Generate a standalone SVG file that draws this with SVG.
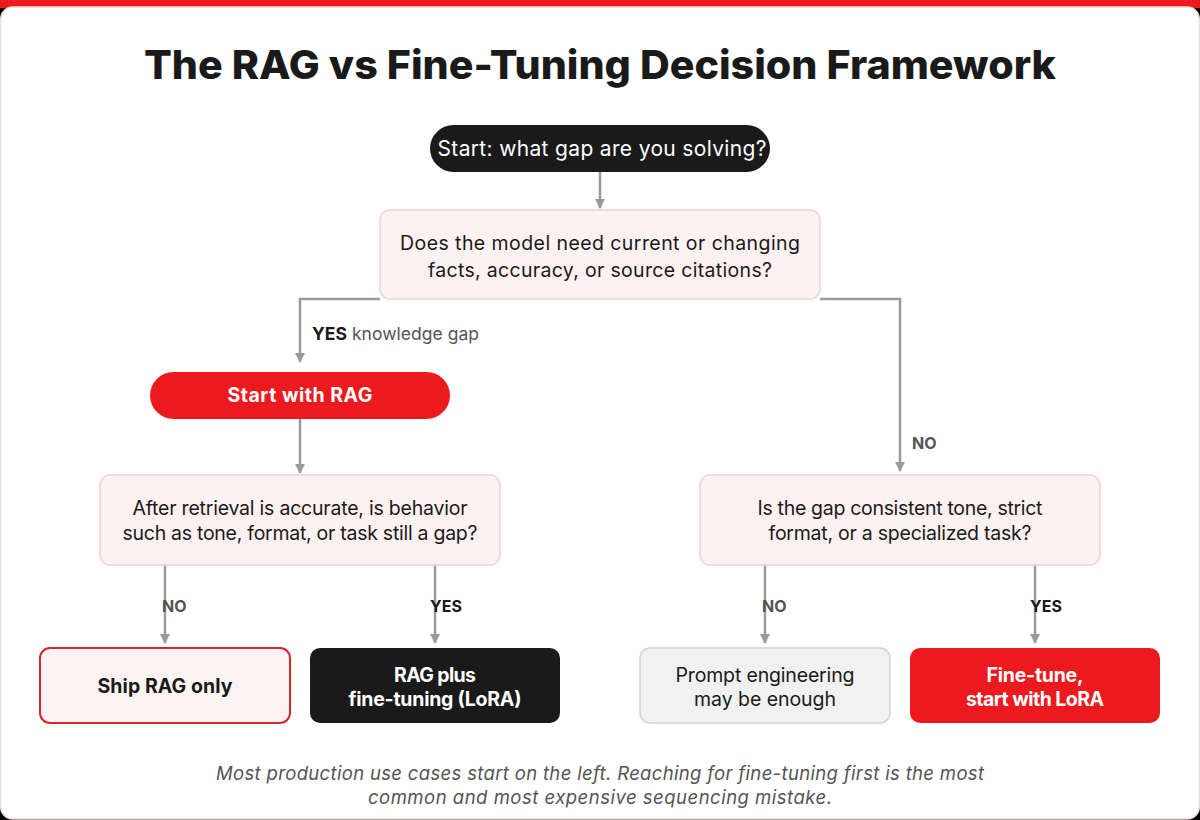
<svg xmlns="http://www.w3.org/2000/svg" width="1200" height="820" viewBox="0 0 1200 820">
  <defs>
    <marker id="arr" viewBox="0 0 10 10" refX="9" refY="5" markerWidth="10" markerHeight="10" markerUnits="userSpaceOnUse" orient="auto">
      <path d="M0,0 L10,5 L0,10 Z" fill="#9a9a9a"/>
    </marker>
    <style>
      text { font-family: Inter, "Open Sans", sans-serif; }
      .title { font-size: 40px; font-weight: 800; fill: #1a1a1a; }
      .q { font-size: 19.5px; fill: #1a1a1a; text-anchor: middle; }
      .qbox { fill: #fdf1f1; stroke: #ecd4d7; stroke-width: 1.5; }
      .conn { fill: none; stroke: #9a9a9a; stroke-width: 2.5; marker-end: url(#arr); }
      .lbl { font-size: 16px; font-weight: 700; fill: #555; }
      .lbly { font-size: 16px; font-weight: 700; fill: #1a1a1a; }
      .bw { font-size: 19.5px; font-weight: 700; fill: #ffffff; text-anchor: middle; }
      .bd { font-size: 19.5px; font-weight: 700; fill: #1a1a1a; text-anchor: middle; }
      .foot { font-size: 18.5px; font-style: italic; fill: #555; text-anchor: middle; }
    </style>
  </defs>
  <rect x="0" y="0" width="1200" height="820" fill="#000"/>
  <rect x="0" y="0" width="1200" height="8" fill="#ec1a1f"/>
  <rect x="0.75" y="7" width="1198.5" height="812" rx="12" fill="#ffffff" stroke="#ecdede" stroke-width="1.5"/>

  <text class="title" x="600" y="79" text-anchor="middle" textLength="912" lengthAdjust="spacingAndGlyphs">The RAG vs Fine-Tuning Decision Framework</text>

  <g id="connectors">
    <path class="conn" d="M600,172 V208"/>
    <path class="conn" d="M380,299 H300 V362"/>
    <path class="conn" d="M820,299 H900 V471"/>
    <path class="conn" d="M300,419 V473"/>
    <path class="conn" d="M165,565 V643"/>
    <path class="conn" d="M435,565 V643"/>
    <path class="conn" d="M765,565 V643"/>
    <path class="conn" d="M1035,565 V643"/>
    <text x="312" y="340" font-size="17.5" textLength="167"><tspan font-weight="700" fill="#1a1a1a">YES</tspan><tspan fill="#555"> knowledge gap</tspan></text>
    <text class="lbl" x="912" y="449">NO</text>
    <text class="lbl" x="162" y="612">NO</text>
    <text class="lbly" x="430" y="612">YES</text>
    <text class="lbl" x="762" y="612">NO</text>
    <text class="lbly" x="1030" y="612">YES</text>
  </g>

  <g id="start">
    <rect x="430" y="125" width="340" height="47" rx="23.5" fill="#1a1a1a"/>
    <text x="602" y="156" font-size="21" fill="#fff" text-anchor="middle" textLength="329">Start: what gap are you solving?</text>
  </g>

  <g id="q1">
    <rect class="qbox" x="380" y="210" width="440" height="89" rx="10"/>
    <text class="q" x="600" y="250" textLength="400">Does the model need current or changing</text>
    <text class="q" x="600" y="277" textLength="344">facts, accuracy, or source citations?</text>
  </g>

  <g id="rag">
    <rect x="150" y="372" width="300" height="47" rx="23.5" fill="#ec1a1f"/>
    <text class="bw" x="300" y="402" font-size="21" textLength="145">Start with RAG</text>
  </g>

  <g id="q2">
    <rect class="qbox" x="100" y="475" width="400" height="90" rx="10"/>
    <text class="q" x="300" y="515" textLength="335">After retrieval is accurate, is behavior</text>
    <text class="q" x="300" y="540" textLength="355">such as tone, format, or task still a gap?</text>
  </g>

  <g id="q3">
    <rect class="qbox" x="700" y="475" width="400" height="90" rx="10"/>
    <text class="q" x="900" y="515" textLength="285">Is the gap consistent tone, strict</text>
    <text class="q" x="900" y="540" textLength="263">format, or a specialized task?</text>
  </g>

  <g id="ship">
    <rect x="40" y="648" width="250" height="75" rx="10" fill="#fdf3f3" stroke="#d9262b" stroke-width="2"/>
    <text class="bd" x="165" y="693" textLength="135">Ship RAG only</text>
  </g>

  <g id="ragplus">
    <rect x="310" y="648" width="250" height="75" rx="10" fill="#1a1a1a"/>
    <text class="bw" x="435" y="682" textLength="82">RAG plus</text>
    <text class="bw" x="435" y="706" textLength="173">fine-tuning (LoRA)</text>
  </g>

  <g id="prompt">
    <rect x="640" y="648" width="250" height="75" rx="10" fill="#f1f1f1" stroke="#d2d2d2" stroke-width="1.5"/>
    <text class="q" x="765" y="682" textLength="179">Prompt engineering</text>
    <text class="q" x="765" y="706" textLength="142">may be enough</text>
  </g>

  <g id="finetune">
    <rect x="910" y="648" width="250" height="75" rx="10" fill="#ec1a1f"/>
    <text class="bw" x="1035" y="682" textLength="97">Fine-tune,</text>
    <text class="bw" x="1035" y="706" textLength="138">start with LoRA</text>
  </g>

  <text class="foot" x="600" y="780" textLength="768">Most production use cases start on the left. Reaching for fine-tuning first is the most</text>
  <text class="foot" x="600" y="804" textLength="464">common and most expensive sequencing mistake.</text>
</svg>
